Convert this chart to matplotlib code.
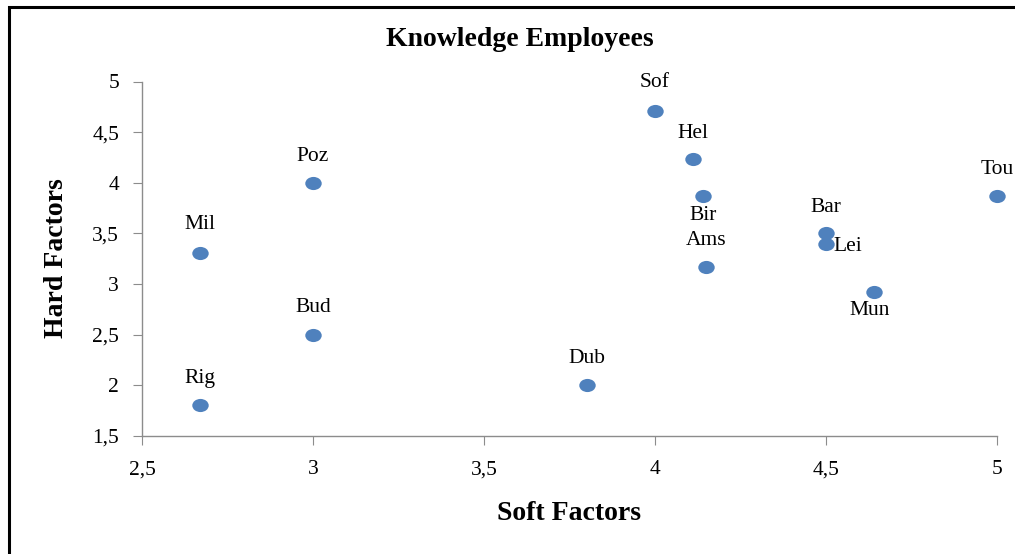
import matplotlib
matplotlib.use("Agg")
import matplotlib.pyplot as plt
from matplotlib.patches import Rectangle
from matplotlib.path import Path
from matplotlib.transforms import Affine2D

cities = ["Sof", "Hel", "Bir", "Ams", "Bar", "Lei", "Mun", "Tou", "Poz", "Mil", "Bud", "Rig", "Dub"]
soft = [4.00, 4.11, 4.14, 4.15, 4.50, 4.50, 4.64, 5.00, 3.00, 2.67, 3.00, 2.67, 3.80]
hard = [4.71, 4.23, 3.87, 3.17, 3.50, 3.40, 2.92, 3.87, 4.00, 3.31, 2.50, 1.81, 2.00]
# label placement: (dx, dy) in pixels, ha
label_pos = {
    "Sof": (0, 28, "center"), "Hel": (0, 26, "center"), "Bir": (0, -20, "center"),
    "Ams": (0, 26, "center"), "Bar": (0, 26, "center"), "Lei": (7, -3, "left"),
    "Mun": (-4, -18, "center"), "Tou": (0, 26, "center"), "Poz": (0, 26, "center"),
    "Mil": (0, 28, "center"), "Bud": (0, 27, "center"), "Rig": (0, 26, "center"),
    "Dub": (0, 27, "center"),
}
xticks = [2.5, 3, 3.5, 4, 4.5, 5]
yticks = [1.5, 2, 2.5, 3, 3.5, 4, 4.5, 5]

plt.rcParams['font.family'] = ['Liberation Serif', 'DejaVu Serif']

fig = plt.figure(figsize=(10.15, 5.54), dpi=100)
fig.patches.append(Rectangle((8.5/1015, -0.1), 1.2, 1.1 - 7/554, transform=fig.transFigure,
                             fill=False, edgecolor='black', linewidth=2.2))
ax = fig.add_axes([142/1015, 1 - 436/554, (997-142)/1015, (436-81.5)/554])

ellipse = Path.unit_circle().transformed(Affine2D().scale(1.25, 1.0))
ax.scatter(soft, hard, s=140, marker=ellipse, color='#4F81BD', zorder=3, clip_on=False,
           linewidths=0)
for c, x, y in zip(cities, soft, hard):
    dx, dy, ha = label_pos[c]
    ax.annotate(c, (x, y), xytext=(dx, dy), textcoords='offset pixels',
                ha=ha, va='center', fontsize=15.5, color='black', annotation_clip=False)

ax.set_xlim(2.5, 5)
ax.set_ylim(1.5, 5)
ax.set_xticks(xticks)
ax.set_yticks(yticks)
fmt = lambda v: (f"{v:g}").replace('.', ',')
ax.set_xticklabels([fmt(v) for v in xticks])
ax.set_yticklabels([fmt(v) for v in yticks])
for s in ['top', 'right']:
    ax.spines[s].set_visible(False)
for s in ['left', 'bottom']:
    ax.spines[s].set_color('#8c8c8c')
    ax.spines[s].set_linewidth(1.0)
ax.tick_params(axis='both', direction='out', length=6.5, color='#8c8c8c', labelsize=15.5)
ax.tick_params(axis='x', pad=11)
ax.tick_params(axis='y', pad=10)

fig.text(520/1015, 1 - 40/554, "Knowledge Employees", ha='center', va='center',
         fontsize=20, fontweight='bold')
fig.text(569/1015, 1 - 513/554, "Soft Factors", ha='center', va='center',
         fontsize=20, fontweight='bold')
fig.text(57/1015, 1 - 258/554, "Hard Factors", ha='center', va='center',
         fontsize=20, fontweight='bold', rotation=90)

fig.savefig("out.png", dpi=100)
